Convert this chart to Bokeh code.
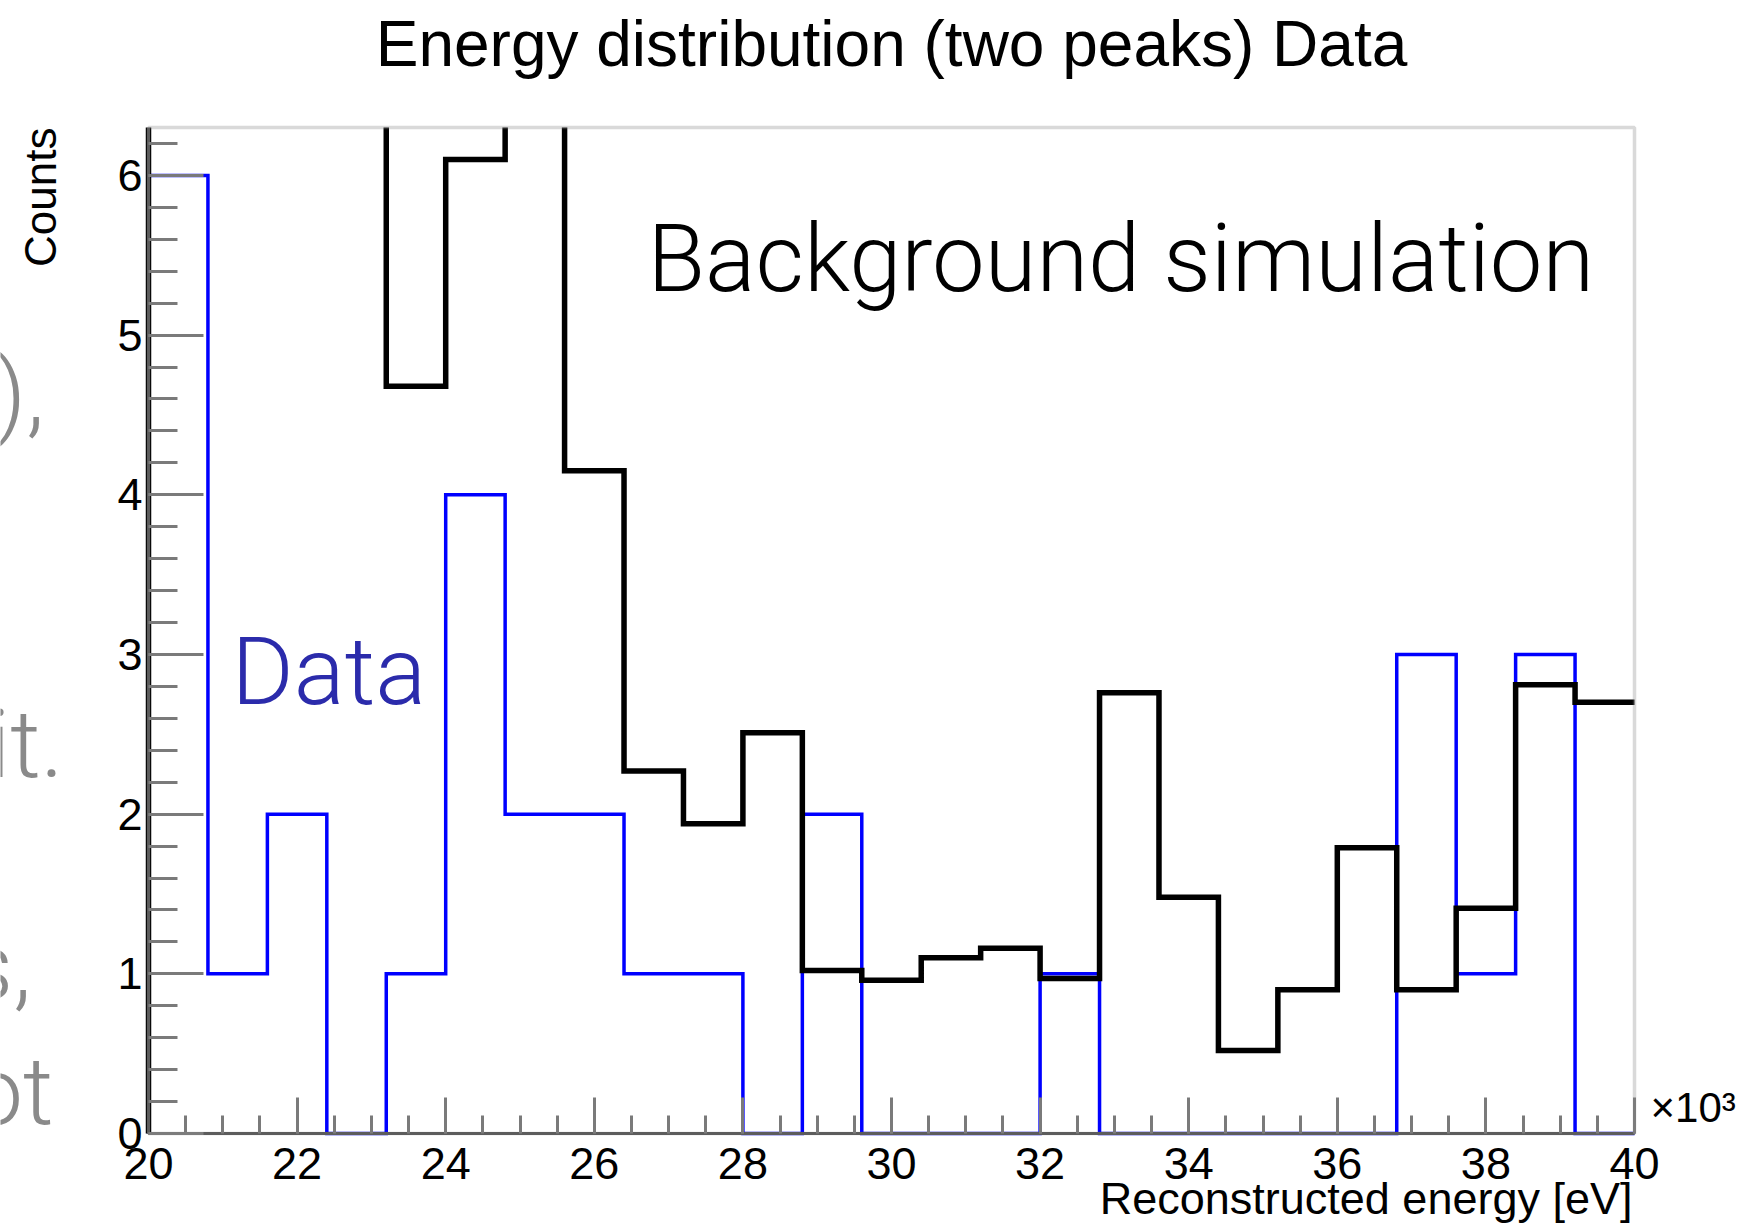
import numpy as np
from bokeh.plotting import figure
from bokeh.models import Range1d, FixedTicker, Label, LinearAxis, BoxAnnotation
from bokeh.embed import file_html
from bokeh.resources import INLINE

# Histogram binning: 25 bins of 0.8 keV between 20 and 40 keV (axis in units of 10^3 eV)
bin_edges = [round(20.0 + 0.8 * i, 1) for i in range(26)]

# Measured counts per bin
data_counts = [6, 1, 2, 0, 1, 4, 2, 2, 1, 1, 0, 2, 0,
               0, 0, 1, 0, 0, 0, 0, 0, 3, 1, 3, 0]

# Normalised background simulation (first bins run above the plotted range)
sim_counts = [9.5, 8.8, 8.2, 7.4, 4.68, 6.10, 7.0, 4.15, 2.27, 1.94, 2.51, 1.02, 0.96,
              1.10, 1.16, 0.97, 2.76, 1.48, 0.52, 0.90, 1.79, 0.90, 1.41, 2.81, 2.70]

y_ticks = [0, 1, 2, 3, 4, 5, 6]
x_ticks = [20, 22, 24, 26, 28, 30, 32, 34, 36, 38, 40]
x_tick_labels = {t: str(t) for t in x_ticks}

ROOT_FONT = "Liberation Sans"
SLIDE_FONT = "Roboto Light"

W, H = 1741, 1226
# Pixel box of the histogram pad inside the page
PAD_L, PAD_R, PAD_T, PAD_B = 148, 1634, 127, 1133
X0, X1, Y0, Y1 = 20.0, 40.0, 0.0, 6.3
KX = (X1 - X0) / (PAD_R - PAD_L)
KY = (Y1 - Y0) / (PAD_B - PAD_T)
# Labels sit this fraction of their font size below the requested baseline
BASELINE_SHIFT = 0.36


def to_x(px):
    return X0 + (px - PAD_L) * KX


def to_y(py):
    return Y0 + (PAD_B - py) * KY


def outline(edges, counts, close_right=True):
    """Step outline of a histogram, starting from zero at the first edge."""
    xs, ys = [edges[0]], [0.0]
    for i, c in enumerate(counts):
        xs += [edges[i], edges[i + 1]]
        ys += [c, c]
    if close_right:
        xs.append(edges[-1])
        ys.append(0.0)
    return xs, ys


# The plotting frame spans the whole page; the pad is the 20-40 x 0-6.3 box inside it
p = figure(width=W, height=H,
           x_range=Range1d(to_x(0), to_x(W)), y_range=Range1d(to_y(H), to_y(0)),
           x_axis_location=None, y_axis_location=None,
           output_backend="svg", toolbar_location=None,
           min_border_left=0, min_border_right=0, min_border_top=0, min_border_bottom=0)

p.background_fill_color = "white"
p.border_fill_color = "white"
p.outline_line_color = None
p.grid.visible = False

# Histograms; bins over the top of the pad are cut just above its upper edge
y_cut = Y1 + 0.05
dx, dy = outline(bin_edges, data_counts)
p.line(dx, [min(v, y_cut) for v in dy], line_color="#0000ff", line_width=3.5,
       line_join="miter")
sx, sy = outline(bin_edges, sim_counts, close_right=False)
p.line(sx, [min(v, y_cut) for v in sy], line_color="black", line_width=5.5,
       line_join="miter")

# Blank strip above the pad hides the cut ends
p.add_layout(BoxAnnotation(left=to_x(PAD_L - 8), right=to_x(PAD_R + 8), bottom=Y1,
                           top=to_y(-50), fill_color="white", fill_alpha=1.0,
                           line_alpha=0.0))
# Pad border
p.add_layout(BoxAnnotation(left=X0, right=X1, bottom=Y0, top=Y1, fill_alpha=0.0,
                           line_color="#808080", line_width=3.5))

# Axes, ROOT style: ticks drawn inside the pad
xaxis = LinearAxis(fixed_location=Y0, bounds=(X0, X1),
                   ticker=FixedTicker(ticks=x_ticks,
                                      minor_ticks=[20 + 0.5 * k for k in range(41)]),
                   major_label_overrides=x_tick_labels,
                   major_tick_in=36, minor_tick_in=18, major_label_standoff=14)
yaxis = LinearAxis(fixed_location=X0, bounds=(Y0, Y1),
                   ticker=FixedTicker(ticks=y_ticks,
                                      minor_ticks=[round(0.2 * k, 1) for k in range(32)]),
                   major_tick_in=55, minor_tick_in=29, major_label_standoff=6)
for ax in (xaxis, yaxis):
    ax.axis_line_color = "#4d4d4d"
    ax.axis_line_width = 3
    ax.major_tick_line_color = "#7a7a7a"
    ax.minor_tick_line_color = "#7a7a7a"
    ax.major_tick_line_width = 3
    ax.minor_tick_line_width = 3
    ax.major_tick_out = 0
    ax.minor_tick_out = 0
    ax.major_label_text_font = ROOT_FONT
    ax.major_label_text_font_size = "45px"
    ax.major_label_text_color = "black"
p.add_layout(xaxis, "below")
p.add_layout(yaxis, "left")


def text(txt, px, py, font, size, color="black", align="left", vertical=False):
    """Text with its baseline at page pixel (px, py); vertical text reads upward."""
    shift = BASELINE_SHIFT * size
    if vertical:
        x, y, angle = to_x(px - shift), to_y(py), np.pi / 2
    else:
        x, y, angle = to_x(px), to_y(py - shift), 0.0
    p.add_layout(Label(x=x, y=y, text=txt, angle=angle,
                       text_font=font, text_font_size=f"{size}px", text_color=color,
                       text_align=align, text_baseline="alphabetic"))


# Title and axis titles
text("Energy distribution (two peaks) Data", (PAD_L + PAD_R) / 2, 67, ROOT_FONT, 64,
     align="center")
text("Reconstructed energy [eV]", 1632, 1214, ROOT_FONT, 45, align="right")
text("Counts", 56, PAD_T, ROOT_FONT, 44, align="right", vertical=True)
text("×10³", 1650, 1122, ROOT_FONT, 42)

# Series annotations
text("Background simulation", 647, 292, SLIDE_FONT, 94)
text("Data", 231, 705, SLIDE_FONT, 95, color="#2b2bab")

# Ends of the slide text running behind the chart
for frag, px, py in [("),", 44, 427), ("it.", 63, 778), ("s,", 31, 1000), ("ot", 53, 1125)]:
    text(frag, px, py, SLIDE_FONT, 95, color="#8a8a8a", align="right")

open("out.html", "w").write(file_html(p, INLINE))
